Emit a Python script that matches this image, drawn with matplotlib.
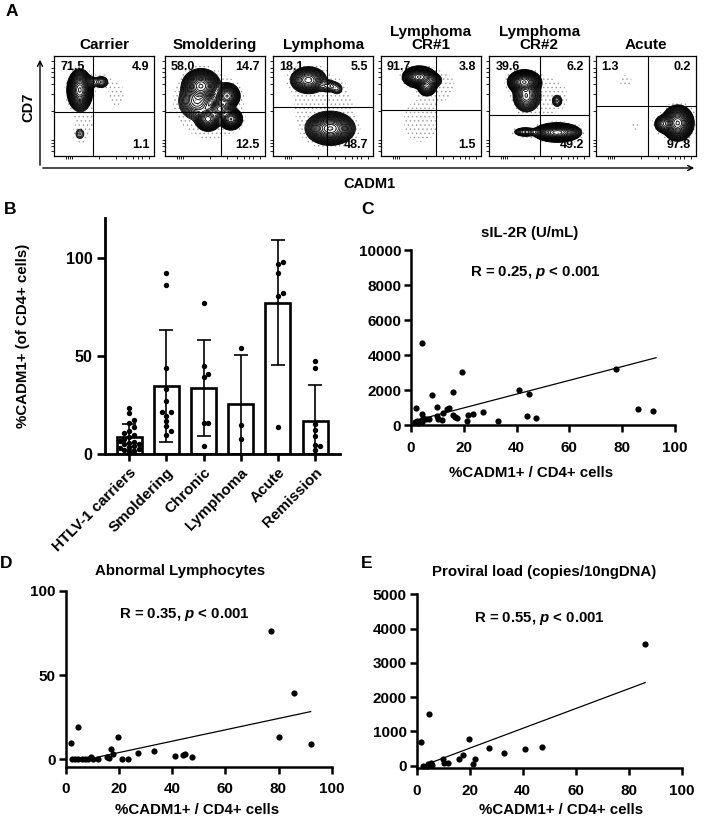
import numpy as np
import matplotlib
matplotlib.use('Agg')
import matplotlib.pyplot as plt
from matplotlib.patches import FancyArrowPatch

plt.rcParams['font.family'] = ['Liberation Sans', 'DejaVu Sans']
plt.rcParams['font.weight'] = 'bold'
plt.rcParams['mathtext.fontset'] = 'custom'
plt.rcParams['mathtext.rm'] = 'Liberation Sans:bold'
plt.rcParams['mathtext.it'] = 'Liberation Sans:italic:bold'
plt.rcParams['hatch.color'] = '#9a9a9a'
plt.rcParams['hatch.linewidth'] = 0.5

# ---------------- Panel A data (flow cytometry, CADM1 vs CD7) ----------------
flow_titles = ['Carrier', 'Smoldering', 'Lymphoma', 'Lymphoma\nCR#1', 'Lymphoma\nCR#2', 'Acute']
flow_q_ul = ['71.5', '58.0', '18.1', '91.7', '39.6', '1.3']
flow_q_ur = ['4.9', '14.7', '5.5', '3.8', '6.2', '0.2']
flow_q_lr = ['1.1', '12.5', '48.7', '1.5', '49.2', '97.8']
gate_x = [0.39, 0.56, 0.535, 0.55, 0.51, 0.52]
gate_y = [0.44, 0.44, 0.49, 0.46, 0.41, 0.50]
# populations: (centre CADM1, centre CD7, spread CADM1, spread CD7, relative weight)
flow_clusters = [
    [(0.255, 0.66, 0.042, 0.068, 1.0), (0.36, 0.74, 0.040, 0.030, 0.03),
     (0.47, 0.74, 0.035, 0.030, 0.04), (0.255, 0.22, 0.030, 0.035, 0.015),
     (0.30, 0.40, 0.080, 0.200, 0.003), (0.62, 0.62, 0.100, 0.150, 0.002)],
    [(0.36, 0.70, 0.062, 0.056, 1.0), (0.62, 0.60, 0.045, 0.045, 0.5),
     (0.55, 0.47, 0.045, 0.040, 0.45), (0.43, 0.37, 0.045, 0.042, 0.45),
     (0.66, 0.37, 0.040, 0.038, 0.5), (0.32, 0.55, 0.070, 0.070, 0.2),
     (0.45, 0.50, 0.200, 0.200, 0.006)],
    [(0.35, 0.76, 0.065, 0.048, 0.35), (0.55, 0.70, 0.050, 0.030, 0.04),
     (0.64, 0.67, 0.030, 0.030, 0.02), (0.57, 0.275, 0.080, 0.054, 1.0),
     (0.50, 0.50, 0.250, 0.250, 0.003)],
    [(0.385, 0.79, 0.055, 0.036, 1.0), (0.46, 0.70, 0.038, 0.040, 0.15),
     (0.51, 0.76, 0.040, 0.030, 0.1), (0.40, 0.35, 0.120, 0.150, 0.004),
     (0.60, 0.70, 0.100, 0.100, 0.004)],
    [(0.35, 0.74, 0.055, 0.040, 1.0), (0.37, 0.60, 0.050, 0.060, 0.25),
     (0.68, 0.55, 0.025, 0.030, 0.03), (0.68, 0.235, 0.080, 0.032, 0.9),
     (0.36, 0.24, 0.050, 0.020, 0.08), (0.55, 0.60, 0.150, 0.120, 0.005)],
    [(0.82, 0.33, 0.052, 0.058, 1.0), (0.68, 0.32, 0.040, 0.038, 0.1),
     (0.30, 0.75, 0.050, 0.050, 0.003), (0.40, 0.30, 0.050, 0.050, 0.002),
     (0.85, 0.32, 0.100, 0.100, 0.005)],
]

# ---------------- Panel B data ----------------
b_categories = ['HTLV-1 carriers', 'Smoldering', 'Chronic', 'Lymphoma', 'Acute', 'Remission']
b_means = [8.8, 34.6, 33.6, 25.4, 77.0, 17.0]
b_sd = [6.8, 28.5, 24.4, 25.0, 31.8, 18.3]
b_carriers = [23.5, 21, 17.5, 16, 14, 12, 11, 10, 9, 8, 7, 6.5, 6, 5, 5, 4, 3.5, 3, 2.5, 2, 1.5, 1]
b_smoldering = [92, 86, 44, 33, 27, 21.5, 21.5, 19.5, 17, 14.5, 12, 10]
b_chronic = [77, 44.7, 40.7, 39.3, 15.9, 15.9, 4.2]
b_lymphoma = [54, 15, 8]
b_acute = [97.8, 97, 92.2, 82, 80.3, 13.9]
b_remission = [47.3, 43.9, 15.6, 12.2, 9.3, 4.9, 4, 2]
b_yticks = [0, 50, 100]

# ---------------- Panel C data (sIL-2R) ----------------
c_x = [4.3, 19.4, 8.1, 16.0, 40.9, 44.7, 77.5, 86.1, 91.8, 1.8, 9.7, 14.5, 13.5, 12.2, 27.1,
       23.6, 21.7, 21.3, 33.1, 44.1, 47.2, 16.0, 16.7, 17.5, 9.7, 10.4, 11.6, 6.8, 5.6, 4.3,
       3.4, 2.1, 1.5, 2.8, 4.0, 4.7]
c_y = [4700, 3060, 1730, 1900, 2015, 1770, 3230, 930, 840, 970, 1065, 970, 930, 720, 740,
       665, 570, 250, 265, 530, 420, 590, 495, 400, 530, 340, 300, 380, 340, 630,
       265, 265, 170, 115, 190, 400]
c_fit = (207.0, 39.3)          # intercept, slope
c_fit_range = (1.5, 92.8)

# ---------------- Panel D data (abnormal lymphocytes) ----------------
d_x = [86.0, 80.2, 92.1, 77.1, 4.8, 1.9, 19.5, 16.9, 27.3, 33.2, 41.1, 44.0, 44.9, 47.4, 17.9,
       15.4, 16.4, 21.0, 23.4, 2.3, 3.5, 4.8, 6.0, 7.3, 8.5, 9.5, 10.4, 12.3]
d_y = [39.1, 13.0, 9.1, 76.1, 19.0, 9.7, 13.0, 5.9, 4.0, 5.1, 2.0, 2.6, 3.2, 1.2, 3.2,
       1.6, 0.6, 0, 0, 0, 0, 0, 0, 0, 0, 1.2, 0, 0]
d_fit = (-2.74, 0.337)
d_fit_range = (11.7, 92.1)

# ---------------- Panel E data (proviral load) ----------------
e_x = [86.2, 4.7, 1.8, 19.6, 27.3, 33.1, 41.0, 47.3, 17.6, 16.1, 22.0, 21.4, 10.1, 10.4, 11.7,
       5.3, 4.4, 5.7, 2.3, 4.0]
e_y = [3541, 1508, 681, 788, 516, 370, 477, 535, 311, 195, 185, 39, 185, 68, 68,
       88, 39, 19, 0, 0]
e_fit = (-68.0, 28.9)
e_fit_range = (4.0, 86.2)

# ---------------- figure ----------------
W, H = 709, 822
fig = plt.figure(figsize=(W / 100, H / 100), dpi=100)


def axes_px(x0, y0, x1, y1):
    return fig.add_axes([x0 / W, 1 - y1 / H, (x1 - x0) / W, (y1 - y0) / H])


def ftext(x, y, s, **kw):
    return fig.text(x / W, 1 - y / H, s, **kw)


# ---- Panel A ----
flow_left = [54.3, 165.0, 273.3, 380.7, 489.3, 595.7]
gx = np.linspace(0, 1, 301)
X, Y = np.meshgrid(gx, gx)
rel_levels = np.geomspace(0.008, 0.95, 22)
for i in range(6):
    ax = axes_px(flow_left[i], 56, flow_left[i] + 100, 156)
    Z = np.zeros_like(X)
    for (cx, cy, sx, sy, w) in flow_clusters[i]:
        Z += w * np.exp(-0.5 * (((X - cx) / sx) ** 2 + ((Y - cy) / sy) ** 2))
    zmax = Z.max()
    ax.contourf(X, Y, Z, levels=[0.0015 * zmax, zmax * 2], colors='none', hatches=['....'])
    ax.contour(X, Y, Z, levels=rel_levels * zmax, colors='black', linewidths=0.6)
    ax.axvline(gate_x[i], color='black', lw=0.8)
    ax.axhline(gate_y[i], color='black', lw=0.8)
    ax.set_xlim(0, 1)
    ax.set_ylim(0, 1)
    for sp in ax.spines.values():
        sp.set_linewidth(0.9)
    ax.set_xticks([0.12, 0.14, 0.16, 0.18, 0.45, 0.62, 0.72, 0.79, 0.84, 0.88, 0.95])
    ax.set_yticks([0.05, 0.1, 0.13, 0.16, 0.45, 0.62, 0.72, 0.79, 0.84, 0.88, 0.95])
    ax.tick_params(length=2, width=0.6, labelbottom=False, labelleft=False)
    ax.set_title(flow_titles[i], fontsize=11, fontweight='bold', pad=5, linespacing=0.9)
    for s, (tx, ty, ha, va) in zip([flow_q_ul[i], flow_q_ur[i], flow_q_lr[i]],
                                   [(0.06, 0.95, 'left', 'top'), (0.95, 0.95, 'right', 'top'),
                                    (0.95, 0.05, 'right', 'bottom')]):
        ax.text(tx, ty, s, transform=ax.transAxes, ha=ha, va=va, fontsize=9,
                fontweight='bold', zorder=5)

fig.add_artist(FancyArrowPatch((40 / W, 1 - 168 / H), (40 / W, 1 - 57 / H),
                               transform=fig.transFigure, arrowstyle='->',
                               mutation_scale=9, lw=1.0, color='black'))
fig.add_artist(FancyArrowPatch((40 / W, 1 - 168 / H), (697 / W, 1 - 168 / H),
                               transform=fig.transFigure, arrowstyle='->',
                               mutation_scale=9, lw=1.0, color='black'))
ftext(28, 107, 'CD7', rotation=90, ha='center', va='center', fontsize=10.5, fontweight='bold')
ftext(369, 184, 'CADM1', ha='center', va='center', fontsize=10.5, fontweight='bold')

# ---- Panel B ----
axB = axes_px(105, 218.4, 340, 454.3)
pos = np.arange(len(b_categories))
axB.bar(pos, b_means, width=0.67, facecolor='white', edgecolor='black', linewidth=1.9, zorder=1)
axB.errorbar(pos, b_means, yerr=b_sd, fmt='none', ecolor='black', elinewidth=1.2,
             capsize=5, capthick=1.2, zorder=2)


def swarm(vals, tol=2.2, step=0.13):
    vals = np.asarray(vals, float)
    offs = np.zeros(len(vals))
    placed = []
    for idx in np.argsort(vals):
        v = vals[idx]
        cand = 0.0
        for k in range(40):
            cand = ((k + 1) // 2) * step * (1 if k % 2 else -1)
            if all(abs(cand - po) >= step * 0.99 or abs(v - pv) >= tol for pv, po in placed):
                break
        offs[idx] = cand
        placed.append((v, cand))
    return offs


for p, vals in zip(pos, [b_carriers, b_smoldering, b_chronic, b_lymphoma, b_acute, b_remission]):
    axB.scatter(p + swarm(vals), vals, s=15, color='black', zorder=3, clip_on=False, linewidths=0)
axB.set_xlim(-0.65, 5.67)
axB.set_ylim(0, 120)
axB.set_yticks(b_yticks)
axB.set_xticks(pos)
axB.set_xticklabels(b_categories, rotation=45, ha='right', va='top', rotation_mode='anchor',
                    fontsize=11, fontweight='bold')
axB.tick_params(axis='y', length=6, width=1.9, pad=3, labelsize=11.5)
axB.tick_params(axis='x', length=5, width=1.9, pad=3)
for lab in axB.get_yticklabels():
    lab.set_fontweight('bold')
for s in ['top', 'right']:
    axB.spines[s].set_visible(False)
for s in ['left', 'bottom']:
    axB.spines[s].set_linewidth(2.0)
axB.set_ylabel('%CADM1+ (of CD4+ cells)', fontsize=10.8, fontweight='bold')
axB.yaxis.set_label_coords(-0.32, 0.5)


# ---- scatter panels ----
def scatter_panel(box, xs, ys, fit, frange, ylim, yticks, title, title_xy, ann, ann_xy, xl_xy):
    ax = axes_px(*box)
    ax.scatter(xs, ys, s=20, color='black', zorder=3, clip_on=False, linewidths=0)
    xr = np.array(frange)
    ax.plot(xr, fit[0] + fit[1] * xr, color='black', lw=0.9, zorder=2)
    ax.set_xlim(0, 100)
    ax.set_ylim(*ylim)
    ax.set_xticks([0, 20, 40, 60, 80, 100])
    ax.set_yticks(yticks)
    ax.tick_params(length=5, width=1.8, labelsize=11)
    ax.tick_params(axis='x', pad=6)
    ax.tick_params(axis='y', pad=2)
    for lab in ax.get_xticklabels() + ax.get_yticklabels():
        lab.set_fontweight('bold')
    for s in ['top', 'right']:
        ax.spines[s].set_visible(False)
    for s in ['left', 'bottom']:
        ax.spines[s].set_linewidth(1.8)
    ftext(title_xy[0], title_xy[1], title, ha='center', va='center', fontsize=10.8, fontweight='bold')
    ftext(ann_xy[0], ann_xy[1], ann, ha='center', va='center', fontsize=10.8, fontweight='bold')
    ftext(xl_xy[0], xl_xy[1], '%CADM1+ / CD4+ cells', ha='center', va='center',
          fontsize=10.8, fontweight='bold')
    return ax


scatter_panel((411, 250, 675, 425.3), c_x, c_y, c_fit, c_fit_range, (0, 10000),
              [0, 2000, 4000, 6000, 8000, 10000], 'sIL-2R (U/mL)', (530, 233),
              r'R = 0.25, $\mathit{p}$ < 0.001', (535.5, 272.7), (531, 473))
scatter_panel((65.7, 590.7, 331.7, 766.9), d_x, d_y, d_fit, d_fit_range, (-4.5, 100),
              [0, 50, 100], 'Abnormal Lymphocytes', (180, 571),
              r'R = 0.35, $\mathit{p}$ < 0.001', (184.5, 614.3), (196.7, 810))
scatter_panel((416.7, 594.3, 681.7, 768.4), e_x, e_y, e_fit, e_fit_range, (-80, 5000),
              [0, 1000, 2000, 3000, 4000, 5000], 'Proviral load (copies/10ngDNA)', (544, 572),
              r'R = 0.55, $\mathit{p}$ < 0.001', (539, 618.3), (561, 810))

# panel letters
for letter, (lx, ly) in zip('ABCDE', [(12, 12), (10, 210), (367, 210), (6, 563), (367, 563)]):
    ftext(lx, ly, letter, ha='center', va='center', fontsize=12.5, fontweight='bold')

fig.savefig('out.png', dpi=100)
